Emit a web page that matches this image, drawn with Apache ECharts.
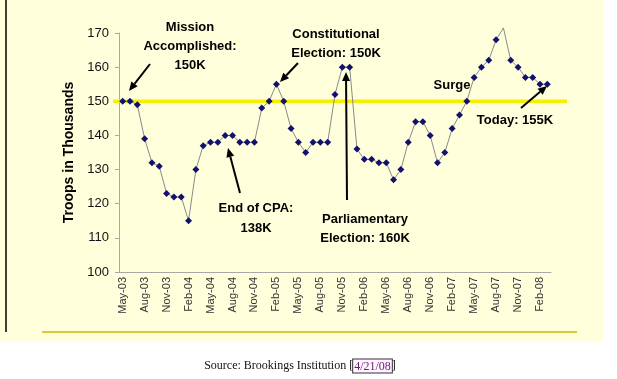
<!DOCTYPE html>
<html><head><meta charset="utf-8">
<script src="https://cdn.jsdelivr.net/npm/echarts@6/dist/echarts.min.js"></script>
<style>html,body{margin:0;padding:0;background:#fff;}#c{width:617px;height:379px;}</style>
</head><body><div id="c"></div>
<script>
const categories = [
  'May-03','Jun-03','Jul-03','Aug-03','Sep-03','Oct-03','Nov-03','Dec-03','Jan-04','Feb-04','Mar-04','Apr-04',
  'May-04','Jun-04','Jul-04','Aug-04','Sep-04','Oct-04','Nov-04','Dec-04','Jan-05','Feb-05','Mar-05','Apr-05',
  'May-05','Jun-05','Jul-05','Aug-05','Sep-05','Oct-05','Nov-05','Dec-05','Jan-06','Feb-06','Mar-06','Apr-06',
  'May-06','Jun-06','Jul-06','Aug-06','Sep-06','Oct-06','Nov-06','Dec-06','Jan-07','Feb-07','Mar-07','Apr-07',
  'May-07','Jun-07','Jul-07','Aug-07','Sep-07','Oct-07','Nov-07','Dec-07','Jan-08','Feb-08','Mar-08'
];
const troops = [
  150,150,149,139,132,131,123,122,122,115,
  130,137,138,138,140,140,138,138,138,148,
  150,155,150,142,138,135,138,138,138,152,
  160,160,136,133,133,132,132,127,130,138,
  144,144,140,132,135,142,146,150,157,160,
  162,168,171.5,162,160,157,157,155,155
];
const yTicks = {min: 100, max: 170, interval: 10};
const referenceValue = 150;
const yAxisTitle = 'Troops in Thousands';
const sourceLabel = 'Source: Brookings Institution ';
const sourceDate = '4/21/08';

const annotations = [
  {text: 'Mission\nAccomplished:\n150K', x: 190, y: 46, lh: 19, arrow: [150, 64, 129, 91]},
  {text: 'Constitutional\nElection: 150K', x: 336, y: 43.5, lh: 19, arrow: [298, 63, 280, 82]},
  {text: 'End of CPA:\n138K', x: 256, y: 218, lh: 20, arrow: [240, 193, 228, 148]},
  {text: 'Parliamentary\nElection: 160K', x: 365, y: 229, lh: 19, arrow: [347, 200, 346, 72]},
  {text: 'Surge', x: 452, y: 85, lh: 19, arrow: null},
  {text: 'Today: 155K', x: 515, y: 120, lh: 19, arrow: [521, 108, 547, 86]}
];

const FONT = '"Liberation Sans", Arial, sans-serif';
const chart = echarts.init(document.getElementById('c'), null, {renderer: 'canvas'});

// peak point above the axis max: no marker
const seriesData = troops.map(v => v > yTicks.max ? {value: v, symbol: 'none'} : v);

chart.setOption({
  animation: false,
  backgroundColor: 'transparent',
  grid: {left: 119, top: 33, width: 432, height: 239, containLabel: false},
  xAxis: {
    type: 'category', data: categories, boundaryGap: true,
    axisLine: {lineStyle: {color: '#a8a8a8', width: 1}},
    axisTick: {interval: 2, length: 4, lineStyle: {color: '#a8a8a8'}},
    axisLabel: {interval: 2, rotate: 90, fontSize: 11, color: '#333', fontFamily: FONT, margin: 5}
  },
  yAxis: {
    type: 'value', min: yTicks.min, max: yTicks.max, interval: yTicks.interval,
    name: yAxisTitle, nameLocation: 'middle', nameGap: 42, nameRotate: 90,
    nameTextStyle: {fontWeight: 'bold', fontSize: 14, color: '#000', fontFamily: FONT},
    axisLine: {show: true, lineStyle: {color: '#a8a8a8', width: 1}},
    axisTick: {show: true, length: 4, lineStyle: {color: '#a8a8a8'}},
    splitLine: {show: false},
    axisLabel: {fontSize: 13, color: '#111', fontFamily: FONT, margin: 10}
  },
  series: [{
    type: 'line', data: seriesData, symbol: 'diamond', symbolSize: 7, clip: false,
    showAllSymbol: true,
    lineStyle: {color: '#8a8a8a', width: 1},
    itemStyle: {color: '#12126e'},
    z: 3
  }]
});

function arrowEls(a) {
  const [x1, y1, x2, y2] = a;
  const dx = x2 - x1, dy = y2 - y1, len = Math.hypot(dx, dy);
  const ux = dx / len, uy = dy / len;
  const hl = 9, hw = 4;
  const bx = x2 - ux * hl, by = y2 - uy * hl;
  return [
    {type: 'line', shape: {x1, y1, x2: bx, y2: by}, style: {stroke: '#000', lineWidth: 2}, z: 20},
    {type: 'polygon', shape: {points: [[x2, y2], [bx - uy * hw, by + ux * hw], [bx + uy * hw, by - ux * hw]]},
     style: {fill: '#000'}, z: 20}
  ];
}

const yRef = chart.convertToPixel({yAxisIndex: 0}, referenceValue);
const xFirst = chart.convertToPixel({xAxisIndex: 0}, 0);
const xLast = chart.convertToPixel({xAxisIndex: 0}, categories.length - 1);
const half = (xLast - xFirst) / (categories.length - 1) / 2;
const gridL = xFirst - half, gridR = xLast + half;

const graphics = [
  {type: 'rect', shape: {x: 0, y: 0, width: 603, height: 342}, style: {fill: '#ffffdc'}, z: -10, silent: true},
  {type: 'line', shape: {x1: 6, y1: 0, x2: 6, y2: 332}, style: {stroke: '#000', lineWidth: 1.5}, z: -5},
  {type: 'line', shape: {x1: 42, y1: 332, x2: 577, y2: 332}, style: {stroke: '#d4b600', lineWidth: 1.5}, z: -5},
  {type: 'line', shape: {x1: gridL - 6, y1: yRef, x2: gridR + 16, y2: yRef}, style: {stroke: '#f4f000', lineWidth: 3.5}, z: 1},
  {type: 'text', x: 300, y: 366, style: {
    text: '{a|' + sourceLabel + '[}{b|' + sourceDate + '}{a|]}',
    align: 'center', verticalAlign: 'middle', textAlign: 'center', textVerticalAlign: 'middle',
    rich: {
      a: {fontFamily: '"Liberation Serif", "Times New Roman", serif', fontSize: 12, fill: '#111', color: '#111'},
      b: {fontFamily: '"Liberation Serif", "Times New Roman", serif', fontSize: 12, fill: '#6a1a7a', color: '#6a1a7a',
          borderColor: '#333', borderWidth: 1, backgroundColor: '#fff4ff', padding: [1, 1, 0, 1]}
    }
  }, z: 10}
];
annotations.forEach(an => {
  graphics.push({type: 'text', x: an.x, y: an.y, style: {
    text: an.text, font: 'bold 13px ' + FONT, fill: '#000', lineHeight: an.lh,
    align: 'center', verticalAlign: 'middle', textAlign: 'center', textVerticalAlign: 'middle'
  }, z: 20});
  if (an.arrow) arrowEls(an.arrow).forEach(e => graphics.push(e));
});
chart.setOption({graphic: graphics});
</script></body></html>
